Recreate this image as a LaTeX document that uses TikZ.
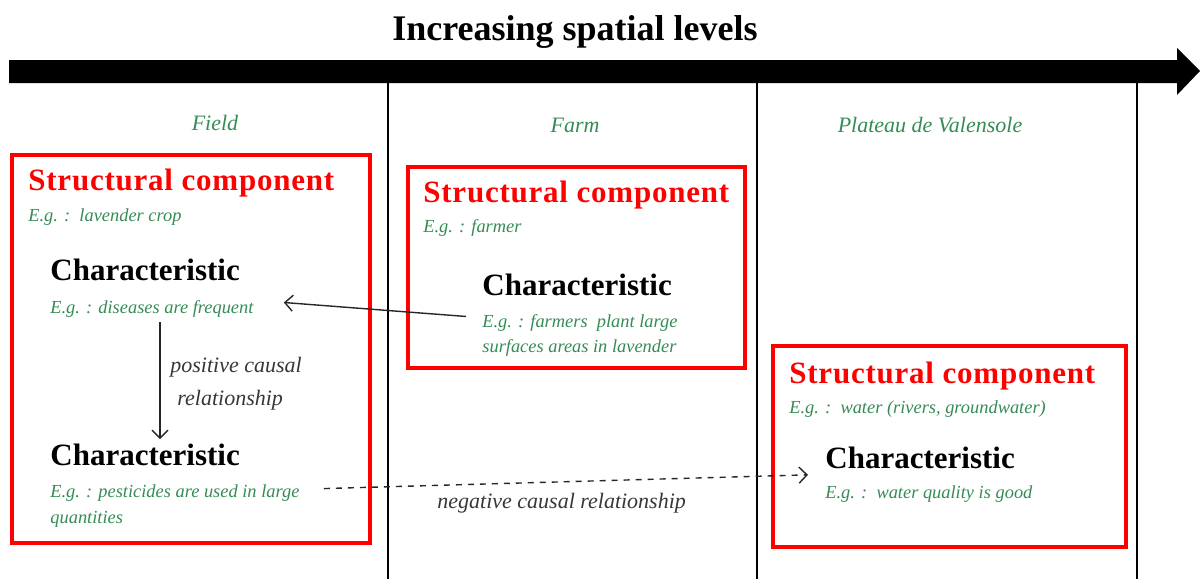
\documentclass[tikz,border=0pt]{standalone}
\usepackage{fontspec}
\setmainfont{Liberation Serif}
\usepackage{xcolor}
\usetikzlibrary{arrows.meta}

\definecolor{egreen}{RGB}{52,140,84}
\definecolor{reldark}{RGB}{55,55,55}

\tikzset{
  compbox/.style   = {draw=red, line width=1.8pt},
  comptitle/.style = {anchor=base west, inner sep=0pt, text=red,
                      font=\fontsize{15.5}{18}\selectfont\bfseries\addfontfeature{LetterSpace=2.5}},
  chartitle/.style = {anchor=base west, inner sep=0pt,
                      font=\fontsize{15.5}{18}\selectfont\bfseries},
  example/.style   = {anchor=base west, inner sep=0pt, text=egreen,
                      font=\fontsize{9.2}{12}\selectfont\itshape},
  level/.style     = {anchor=base, inner sep=0pt, text=egreen,
                      font=\fontsize{11}{13}\selectfont\itshape},
  rellabel/.style  = {anchor=base west, inner sep=0pt, text=reldark,
                      font=\fontsize{11}{13}\selectfont\itshape},
  cause/.style     = {draw=black!85, line width=0.7pt,
                      -{Straight Barb[length=4pt,width=8pt]}},
}

\begin{document}
\begin{tikzpicture}[x=0.5pt, y=-0.5pt]
\useasboundingbox (0,0) rectangle (1200,579);

% title and the big arrow of spatial levels
\node (title) [anchor=base, inner sep=0pt, font=\fontsize{18}{20}\selectfont\bfseries] at (575,40) {Increasing spatial levels};
\fill (9,60) -- (1177,60) -- (1177,48) -- (1200,71) -- (1177,95) -- (1177,83) -- (9,83) -- cycle;
\foreach \x in {388,757,1137}
  \draw[line width=1pt] (\x,83) -- (\x,579);

% level names
\node (lfield) [level] at (215,130) {Field};
\node (lfarm)  [level] at (575,132) {Farm};
\node (lplat)  [level] at (930,132) {Plateau de Valensole};

% field
\draw[compbox] (12,155) rectangle (370,543);
\node (sc1)  [comptitle] at (28,190) {Structural component};
\node (eg1)  [example]   at (28,221) {E.g. :\ \ lavender crop};
\node (ch1)  [chartitle] at (50,280) {Characteristic};
\node (ex1)  [example]   at (50,313) {E.g. : diseases are frequent};
\node (ch2)  [chartitle] at (50,465) {Characteristic};
\node (ex2)  [example]   at (50,497) {E.g. : pesticides are used in large};
\node (ex2b) [example]   at (50,523) {quantities};
\node (pos1) [rellabel]  at (170,372) {positive causal};
\node (pos2) [rellabel]  at (177,405) {relationship};

% farm
\draw[compbox] (408,167) rectangle (745,368);
\node (sc2)  [comptitle] at (423,202) {Structural component};
\node (eg2)  [example]   at (423,232) {E.g. : farmer};
\node (chf)  [chartitle] at (482,295) {Characteristic};
\node (exf)  [example]   at (482,327) {E.g. : farmers\ \ plant large};
\node (exfb) [example]   at (482,352) {surfaces areas in lavender};

% plateau
\draw[compbox] (773,346) rectangle (1126,547);
\node (sc3)  [comptitle] at (789,383) {Structural component};
\node (eg3)  [example]   at (789,413) {E.g. :\ \ water (rivers, groundwater)};
\node (ch3)  [chartitle] at (825,468) {Characteristic};
\node (ex3)  [example]   at (825,498) {E.g. :\ \ water quality is good};
\node (neg)  [rellabel]  at (437,508) {negative causal relationship};

% causal links
\draw[cause] ([xshift=55pt,yshift=-2.5pt]ex1.south west) -- ([xshift=55pt,yshift=2pt]ch2.north west);
\draw[cause] ([xshift=-8pt,yshift=3pt]exf.west) -- ([xshift=15pt,yshift=3pt]ex1.east);
\draw[cause, dashed] ([xshift=12pt,yshift=2pt]ex2.east) -- ([xshift=-8.5pt,yshift=5pt]ex3.north west);
\end{tikzpicture}
\end{document}
